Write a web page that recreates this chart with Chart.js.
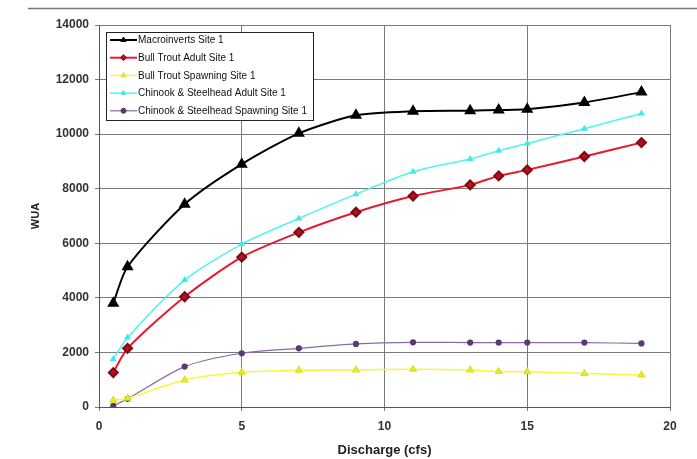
<!DOCTYPE html>
<html>
<head>
<meta charset="utf-8">
<script src="https://cdn.jsdelivr.net/npm/chart.js@4.4.0/dist/chart.umd.min.js"></script>
<style>
  html, body { margin: 0; padding: 0; background: #fff; }
  #wrap { width: 697px; height: 459px; }
</style>
</head>
<body>
<div id="wrap"><canvas id="myChart" width="697" height="459"></canvas></div>
<script>
// discharge (cfs) for every point
var discharge = [0.5, 1, 3, 5, 7, 9, 11, 13, 14, 15, 17, 19];

// WUA per series
var macroinverts   = [3800, 5140, 7430, 8900, 10030, 10690, 10840, 10860, 10885, 10910, 11160, 11540];
var bullAdult      = [1260, 2150, 4040, 5490, 6400, 7140, 7730, 8140, 8470, 8690, 9180, 9690];
var bullSpawning   = [250, 320, 990, 1270, 1350, 1360, 1380, 1360, 1300, 1290, 1230, 1170];
var chinookAdult   = [1750, 2550, 4650, 5970, 6910, 7800, 8620, 9090, 9390, 9660, 10200, 10760];
var chinookSpawn   = [40, 300, 1480, 1970, 2150, 2310, 2370, 2360, 2360, 2360, 2360, 2330];

var seriesNames = [
  "Macroinverts Site 1",
  "Bull Trout Adult Site 1",
  "Bull Trout Spawning Site 1",
  "Chinook & Steelhead Adult Site 1",
  "Chinook & Steelhead Spawning Site 1"
];

var xTicks = [0, 5, 10, 15, 20];
var yTicks = [0, 2000, 4000, 6000, 8000, 10000, 12000, 14000];

function pts(values) {
  return values.map(function (v, i) { return { x: discharge[i], y: v }; });
}

// legend box drawn inside the plot, like the Excel one
var boxLegend = {
  id: 'boxLegend',
  afterDraw: function (chart) {
    var ctx = chart.ctx;
    ctx.save();
    // thin rule at the very top of the page
    ctx.strokeStyle = '#777';
    ctx.lineWidth = 1.5;
    ctx.beginPath();
    ctx.moveTo(28, 8.5);
    ctx.lineTo(697, 8.5);
    ctx.stroke();

    var bx = 106, by = 32, bw = 207, bh = 88;
    ctx.fillStyle = '#fff';
    ctx.fillRect(bx, by, bw, bh);
    ctx.strokeStyle = '#222';
    ctx.lineWidth = 1;
    ctx.strokeRect(bx + 0.5, by + 0.5, bw, bh);

    ctx.font = '10px "Liberation Sans", Arial, sans-serif';
    ctx.textBaseline = 'middle';
    chart.data.datasets.forEach(function (ds, i) {
      var y = 40 + i * 17.7;
      ctx.strokeStyle = ds.borderColor;
      ctx.lineWidth = ds.borderWidth;
      ctx.beginPath();
      ctx.moveTo(110, y);
      ctx.lineTo(137, y);
      ctx.stroke();
      ctx.fillStyle = ds.pointBackgroundColor;
      ctx.strokeStyle = ds.pointBorderColor;
      ctx.lineWidth = 1;
      Chart.helpers.drawPoint(ctx, {
        pointStyle: ds.pointStyle,
        radius: Math.min(ds.pointRadius, 3),
        rotation: 0,
        borderWidth: 1
      }, 123.5, y);
      ctx.fillStyle = '#111';
      ctx.fillText(ds.label, 138, y + 0.5);
    });
    ctx.restore();
  }
};

var ctx = document.getElementById("myChart");
var myLineChart = new Chart(ctx, {
  type: 'line',
  data: {
    datasets: [{
      label: seriesNames[0],
      data: pts(macroinverts),
      borderColor: '#000000',
      borderWidth: 2,
      pointStyle: 'triangle',
      pointRadius: 5,
      pointBackgroundColor: '#000000',
      pointBorderColor: '#000000'
    }, {
      label: seriesNames[1],
      data: pts(bullAdult),
      borderColor: '#e8192c',
      borderWidth: 2,
      pointStyle: 'rectRot',
      pointRadius: 4.5,
      pointBackgroundColor: '#b8101e',
      pointBorderColor: '#7a0a14'
    }, {
      label: seriesNames[2],
      data: pts(bullSpawning),
      borderColor: '#f6f640',
      borderWidth: 1.5,
      pointStyle: 'triangle',
      pointRadius: 3.5,
      pointBackgroundColor: '#eeee30',
      pointBorderColor: '#e0e020'
    }, {
      label: seriesNames[3],
      data: pts(chinookAdult),
      borderColor: '#50f4f4',
      borderWidth: 1.5,
      pointStyle: 'triangle',
      pointRadius: 2.5,
      pointBackgroundColor: '#40e8e8',
      pointBorderColor: '#40e8e8'
    }, {
      label: seriesNames[4],
      data: pts(chinookSpawn),
      borderColor: '#8a6aa8',
      borderWidth: 1.2,
      pointStyle: 'circle',
      pointRadius: 2.5,
      pointBackgroundColor: '#5a3a70',
      pointBorderColor: '#5a3a70'
    }]
  },
  options: {
    responsive: false,
    animation: false,
    layout: { padding: { left: 29, top: 25, right: 27, bottom: 0 } },
    elements: { line: { tension: 0.25 } },
    plugins: {
      legend: { display: false },
      tooltip: { enabled: false }
    },
    scales: {
      x: {
        type: 'linear',
        min: 0,
        max: 20,
        afterBuildTicks: function (axis) {
          axis.ticks = xTicks.map(function (v) { return { value: v }; });
        },
        afterFit: function (axis) { axis.height = 52; },
        grid: { color: '#7a7a7a', lineWidth: 1, tickLength: 4, drawTicks: true },
        border: { color: '#555', width: 1 },
        ticks: {
          padding: 8,
          color: '#333',
          font: { family: '"Liberation Sans", Arial, sans-serif', size: 12, weight: 'bold' }
        },
        title: {
          display: true,
          text: 'Discharge (cfs)',
          color: '#222',
          padding: { top: 0, bottom: 1 },
          font: { family: '"Liberation Sans", Arial, sans-serif', size: 13, weight: 'bold' }
        }
      },
      y: {
        min: 0,
        max: 14000,
        afterBuildTicks: function (axis) {
          axis.ticks = yTicks.map(function (v) { return { value: v }; });
        },
        afterFit: function (axis) { axis.width = 70; },
        grid: { color: '#7a7a7a', lineWidth: 1, tickLength: 4, drawTicks: true },
        border: { color: '#555', width: 1 },
        ticks: {
          padding: 6,
          color: '#333',
          callback: function (v) { return String(v); },
          font: { family: '"Liberation Sans", Arial, sans-serif', size: 12, weight: 'bold' }
        },
        title: {
          display: true,
          text: 'WUA',
          color: '#222',
          padding: { top: 0, bottom: 0 },
          font: { family: '"Liberation Sans", Arial, sans-serif', size: 11, weight: 'bold' }
        }
      }
    }
  },
  plugins: [boxLegend]
});
</script>
</body>
</html>
